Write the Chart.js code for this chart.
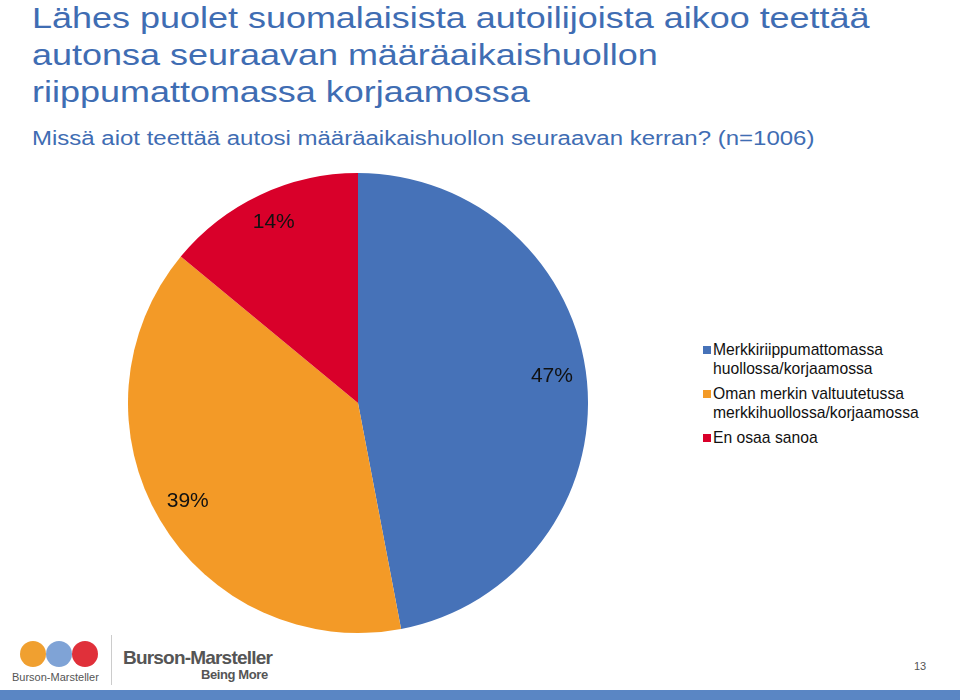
<!DOCTYPE html>
<html>
<head>
<meta charset="utf-8">
<style>
  body { margin: 0; width: 960px; height: 700px; background: #fff; position: relative; overflow: hidden; font-family: "Liberation Sans", Arial, sans-serif; }
  #title { position: absolute; left: 32px; top: 0px; color: #3f6db3; font-size: 29px; line-height: 37px; white-space: nowrap; transform: scaleX(1.24); transform-origin: 0 0; }
  #subtitle { position: absolute; left: 32px; top: 127px; color: #3f6db3; font-size: 20px; white-space: nowrap; transform: scaleX(1.2); transform-origin: 0 0; }
  #chartBox { position: absolute; left: 128px; top: 172px; width: 460px; height: 462px; }
  #legend { position: absolute; left: 700px; top: 341px; font-size: 15.7px; color: #111; }
  #legend .item { position: relative; padding-left: 13px; line-height: 18.5px; margin-bottom: 7px; }
  #legend .box { position: absolute; left: 3px; top: 5px; width: 8px; height: 8px; }
  #footer { position: absolute; left: 0; top: 635px; width: 960px; height: 65px; }
  #bar { position: absolute; left: 0; top: 690px; width: 960px; height: 10px; background: #5a86c4; }
  #pageno { position: absolute; left: 914px; top: 660px; font-size: 11px; color: #555; }
</style>
</head>

<body>

<div id="title">Lähes puolet suomalaisista autoilijoista aikoo teettää<br>autonsa seuraavan määräaikaishuollon<br>riippumattomassa korjaamossa</div>
<div id="subtitle">Missä aiot teettää autosi määräaikaishuollon seuraavan kerran? (n=1006)</div>

<div id="chartBox">
  <canvas id="myChart"></canvas>
</div>

<div id="legend"></div>

<div id="footer">
  <div style="position:absolute;left:20px;top:6px;width:26px;height:26px;border-radius:50%;background:#f0a030;"></div>
  <div style="position:absolute;left:46px;top:6px;width:26px;height:26px;border-radius:50%;background:#7fa3d6;"></div>
  <div style="position:absolute;left:72px;top:6px;width:26px;height:26px;border-radius:50%;background:#e0303a;"></div>
  <div style="position:absolute;left:12px;top:36px;font-size:11px;color:#555;">Burson-Marsteller</div>
  <div style="position:absolute;left:111px;top:0px;width:1px;height:50px;background:#ccc;"></div>
  <div style="position:absolute;left:123px;top:12px;font-size:19px;font-weight:bold;color:#555;letter-spacing:-0.8px;">Burson-Marsteller</div>
  <div style="position:absolute;left:201px;top:32px;font-size:13px;font-weight:bold;color:#555;letter-spacing:-0.4px;">Being More</div>
</div>
<div id="pageno">13</div>
<div id="bar"></div>

<script src="https://cdn.jsdelivr.net/npm/chart.js"></script>

<script>
  const labels = [
    ['Merkkiriippumattomassa', 'huollossa/korjaamossa'],
    ['Oman merkin valtuutetussa', 'merkkihuollossa/korjaamossa'],
    ['En osaa sanoa']
  ];
  const values = [47, 39, 14];
  const colors = ['#4672b8', '#f39a27', '#d9002a'];

  // percent labels inside the slices
  const sliceLabels = {
    id: 'sliceLabels',
    afterDatasetsDraw(chart) {
      const ctx = chart.ctx;
      const meta = chart.getDatasetMeta(0);
      ctx.save();
      ctx.font = '21px "Liberation Sans", Arial, sans-serif';
      ctx.fillStyle = '#111';
      ctx.textAlign = 'center';
      ctx.textBaseline = 'middle';
      meta.data.forEach(function(arc, i) {
        const mid = (arc.startAngle + arc.endAngle) / 2;
        const r = arc.outerRadius * 0.86;
        let dy = i === 0 ? -6 : 0;
        ctx.fillText(values[i] + '%', arc.x + Math.cos(mid) * r - (i === 0 ? 3 : 0), arc.y + Math.sin(mid) * r + dy - 2);
      });
      ctx.restore();
    }
  };

  const data = {
    labels: labels,
    datasets: [{
      data: values,
      backgroundColor: colors,
      borderWidth: 0
    }]
  };

  const config = {
    type: 'pie',
    data: data,
    options: {
      responsive: true,
      maintainAspectRatio: false,
      animation: false,
      plugins: {
        legend: { display: false },
        tooltip: { enabled: false }
      }
    },
    plugins: [sliceLabels]
  };

  const myChart = new Chart(document.getElementById('myChart'), config);

  // legend built from the same arrays
  const legendEl = document.getElementById('legend');
  labels.forEach(function(lab, i) {
    const item = document.createElement('div');
    item.className = 'item';
    item.innerHTML = '<span class="box" style="background:' + colors[i] + '"></span>' + lab.join('<br>');
    legendEl.appendChild(item);
  });
</script>

</body>
</html>
